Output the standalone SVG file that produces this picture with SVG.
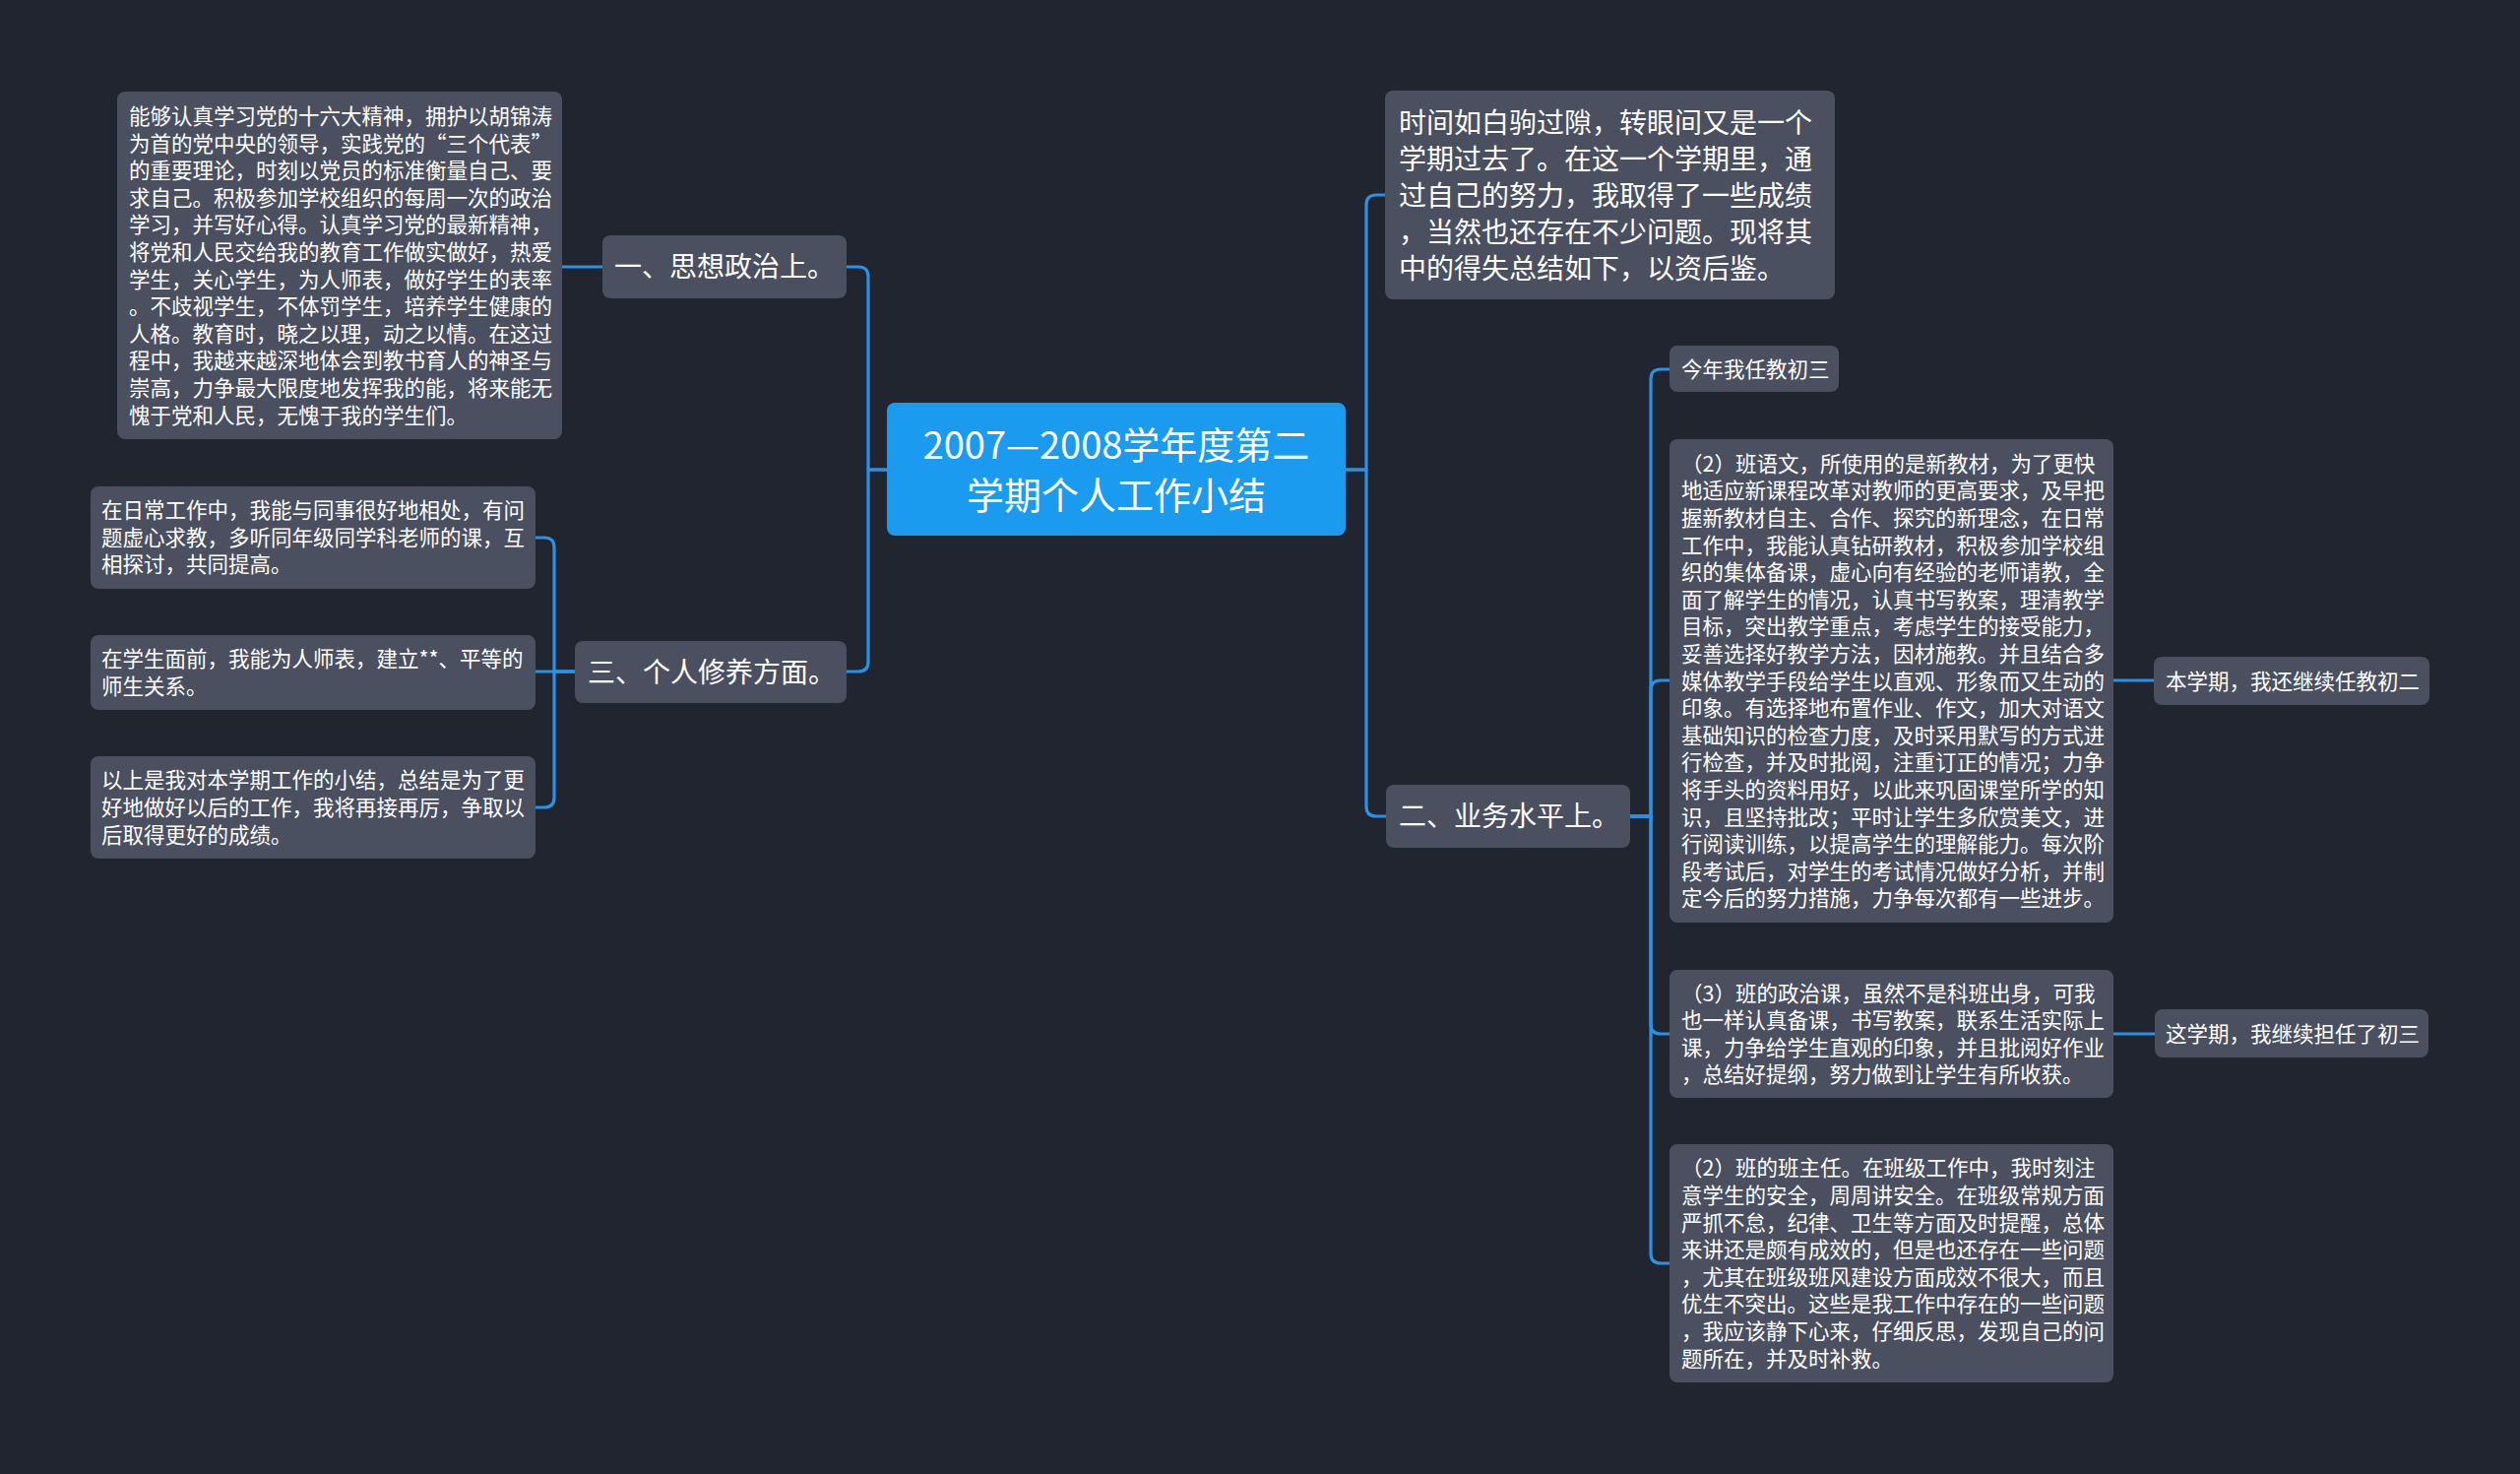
<svg xmlns="http://www.w3.org/2000/svg" width="2560" height="1497" viewBox="0 0 2560 1497">
<style>
.bg{fill:#21252f}
.n{fill:#4a505f}
.c{fill:#1b9bf0}
.t{fill:#ffffff;font-family:"Noto Sans CJK SC","Noto Sans",sans-serif}
.s{font-size:21.5px}
.m{font-size:28px}
.i{font-size:28px}
.h{font-size:38px}
.lk{fill:none;stroke:#2a92e6;stroke-width:3.2;stroke-linecap:round;stroke-linejoin:round}
</style>
<rect class="bg" x="0" y="0" width="2560" height="1497"/>
<g id="connectors">
<path class="lk" d="M901,477 H882 V281 Q882,271 872,271 H860"/>
<path class="lk" d="M901,477 H882 V672 Q882,682 872,682 H860"/>
<path class="lk" d="M1367,477 H1388 V208 Q1388,198 1398,198 H1407"/>
<path class="lk" d="M1367,477 H1388 V819 Q1388,829 1398,829 H1408"/>
<path class="lk" d="M1656,829 H1677 V385 Q1677,375 1687,375 H1696"/>
<path class="lk" d="M1656,829 H1677 V701 Q1677,691 1687,691 H1696"/>
<path class="lk" d="M1656,829 H1677 V1040 Q1677,1050 1687,1050 H1696"/>
<path class="lk" d="M1656,829 H1677 V1273 Q1677,1283 1687,1283 H1696"/>
<path class="lk" d="M2147,691 H2188"/>
<path class="lk" d="M2147,1050 H2189"/>
<path class="lk" d="M612,271 H571"/>
<path class="lk" d="M584,682 H563 V556 Q563,546 553,546 H544"/>
<path class="lk" d="M584,682 H544"/>
<path class="lk" d="M584,682 H563 V810 Q563,820 553,820 H544"/>
</g>
<g id="root">
<rect class="c" x="901" y="409" width="466" height="135" rx="8"/>
<text class="t h" text-anchor="middle"><tspan x="1134" y="466">2007—2008学年度第二</tspan><tspan x="1134" y="516.5">学期个人工作小结</tspan></text>
</g>
<g id="intro">
<rect class="n" x="1407" y="92" width="457" height="212" rx="8"/>
<text class="t i"><tspan x="1421" y="134.6">时间如白驹过隙，转眼间又是一个</tspan><tspan x="1421" dy="37">学期过去了。在这一个学期里，通</tspan><tspan x="1421" dy="37">过自己的努力，我取得了一些成绩</tspan><tspan x="1421" dy="37">，当然也还存在不少问题。现将其</tspan><tspan x="1421" dy="37">中的得失总结如下，以资后鉴。</tspan></text>
</g>
<g id="n-yi">
<rect class="n" x="612" y="239" width="248" height="64" rx="8"/>
<text class="t m" x="624" y="281">一、思想政治上。</text>
</g>
<g id="n-yi-detail">
<rect class="n" x="119" y="93" width="452" height="353" rx="8"/>
<text class="t s"><tspan x="131" y="126">能够认真学习党的十六大精神，拥护以胡锦涛</tspan><tspan x="131" dy="27.6">为首的党中央的领导，实践党的“三个代表”</tspan><tspan x="131" dy="27.6">的重要理论，时刻以党员的标准衡量自己、要</tspan><tspan x="131" dy="27.6">求自己。积极参加学校组织的每周一次的政治</tspan><tspan x="131" dy="27.6">学习，并写好心得。认真学习党的最新精神，</tspan><tspan x="131" dy="27.6">将党和人民交给我的教育工作做实做好，热爱</tspan><tspan x="131" dy="27.6">学生，关心学生，为人师表，做好学生的表率</tspan><tspan x="131" dy="27.6">。不歧视学生，不体罚学生，培养学生健康的</tspan><tspan x="131" dy="27.6">人格。教育时，晓之以理，动之以情。在这过</tspan><tspan x="131" dy="27.6">程中，我越来越深地体会到教书育人的神圣与</tspan><tspan x="131" dy="27.6">崇高，力争最大限度地发挥我的能，将来能无</tspan><tspan x="131" dy="27.6">愧于党和人民，无愧于我的学生们。</tspan></text>
</g>
<g id="n-san">
<rect class="n" x="584" y="651" width="276" height="63" rx="8"/>
<text class="t m" x="597" y="692.5">三、个人修养方面。</text>
</g>
<g id="n-san-1">
<rect class="n" x="92" y="494" width="452" height="104" rx="8"/>
<text class="t s"><tspan x="103" y="526">在日常工作中，我能与同事很好地相处，有问</tspan><tspan x="103" dy="27.6">题虚心求教，多听同年级同学科老师的课，互</tspan><tspan x="103" dy="27.6">相探讨，共同提高。</tspan></text>
</g>
<g id="n-san-2">
<rect class="n" x="92" y="645" width="452" height="76" rx="8"/>
<text class="t s"><tspan x="103" y="677">在学生面前，我能为人师表，建立**、平等的</tspan><tspan x="103" dy="27.6">师生关系。</tspan></text>
</g>
<g id="n-san-3">
<rect class="n" x="92" y="768" width="452" height="104" rx="8"/>
<text class="t s"><tspan x="103" y="800.4">以上是我对本学期工作的小结，总结是为了更</tspan><tspan x="103" dy="27.6">好地做好以后的工作，我将再接再厉，争取以</tspan><tspan x="103" dy="27.6">后取得更好的成绩。</tspan></text>
</g>
<g id="n-er">
<rect class="n" x="1408" y="797" width="248" height="64" rx="8"/>
<text class="t m" x="1421" y="839">二、业务水平上。</text>
</g>
<g id="n-er-1">
<rect class="n" x="1696" y="351" width="172" height="47" rx="8"/>
<text class="t s" x="1708" y="382.5">今年我任教初三</text>
</g>
<g id="n-er-2">
<rect class="n" x="1696" y="446" width="451" height="491" rx="8"/>
<text class="t s"><tspan x="1708" y="478.7">（2）班语文，所使用的是新教材，为了更快</tspan><tspan x="1708" dy="27.6">地适应新课程改革对教师的更高要求，及早把</tspan><tspan x="1708" dy="27.6">握新教材自主、合作、探究的新理念，在日常</tspan><tspan x="1708" dy="27.6">工作中，我能认真钻研教材，积极参加学校组</tspan><tspan x="1708" dy="27.6">织的集体备课，虚心向有经验的老师请教，全</tspan><tspan x="1708" dy="27.6">面了解学生的情况，认真书写教案，理清教学</tspan><tspan x="1708" dy="27.6">目标，突出教学重点，考虑学生的接受能力，</tspan><tspan x="1708" dy="27.6">妥善选择好教学方法，因材施教。并且结合多</tspan><tspan x="1708" dy="27.6">媒体教学手段给学生以直观、形象而又生动的</tspan><tspan x="1708" dy="27.6">印象。有选择地布置作业、作文，加大对语文</tspan><tspan x="1708" dy="27.6">基础知识的检查力度，及时采用默写的方式进</tspan><tspan x="1708" dy="27.6">行检查，并及时批阅，注重订正的情况；力争</tspan><tspan x="1708" dy="27.6">将手头的资料用好，以此来巩固课堂所学的知</tspan><tspan x="1708" dy="27.6">识，且坚持批改；平时让学生多欣赏美文，进</tspan><tspan x="1708" dy="27.6">行阅读训练，以提高学生的理解能力。每次阶</tspan><tspan x="1708" dy="27.6">段考试后，对学生的考试情况做好分析，并制</tspan><tspan x="1708" dy="27.6">定今后的努力措施，力争每次都有一些进步。</tspan></text>
</g>
<g id="n-er-2-a">
<rect class="n" x="2188" y="667" width="280" height="49" rx="8"/>
<text class="t s" x="2200" y="699.5">本学期，我还继续任教初二</text>
</g>
<g id="n-er-3">
<rect class="n" x="1696" y="985" width="451" height="130" rx="8"/>
<text class="t s"><tspan x="1708" y="1016.6">（3）班的政治课，虽然不是科班出身，可我</tspan><tspan x="1708" dy="27.6">也一样认真备课，书写教案，联系生活实际上</tspan><tspan x="1708" dy="27.6">课，力争给学生直观的印象，并且批阅好作业</tspan><tspan x="1708" dy="27.6">，总结好提纲，努力做到让学生有所收获。</tspan></text>
</g>
<g id="n-er-3-a">
<rect class="n" x="2189" y="1025" width="278" height="49" rx="8"/>
<text class="t s" x="2200" y="1057.5">这学期，我继续担任了初三</text>
</g>
<g id="n-er-4">
<rect class="n" x="1696" y="1162" width="451" height="242" rx="8"/>
<text class="t s"><tspan x="1708" y="1194.4">（2）班的班主任。在班级工作中，我时刻注</tspan><tspan x="1708" dy="27.6">意学生的安全，周周讲安全。在班级常规方面</tspan><tspan x="1708" dy="27.6">严抓不怠，纪律、卫生等方面及时提醒，总体</tspan><tspan x="1708" dy="27.6">来讲还是颇有成效的，但是也还存在一些问题</tspan><tspan x="1708" dy="27.6">，尤其在班级班风建设方面成效不很大，而且</tspan><tspan x="1708" dy="27.6">优生不突出。这些是我工作中存在的一些问题</tspan><tspan x="1708" dy="27.6">，我应该静下心来，仔细反思，发现自己的问</tspan><tspan x="1708" dy="27.6">题所在，并及时补救。</tspan></text>
</g>
</svg>
